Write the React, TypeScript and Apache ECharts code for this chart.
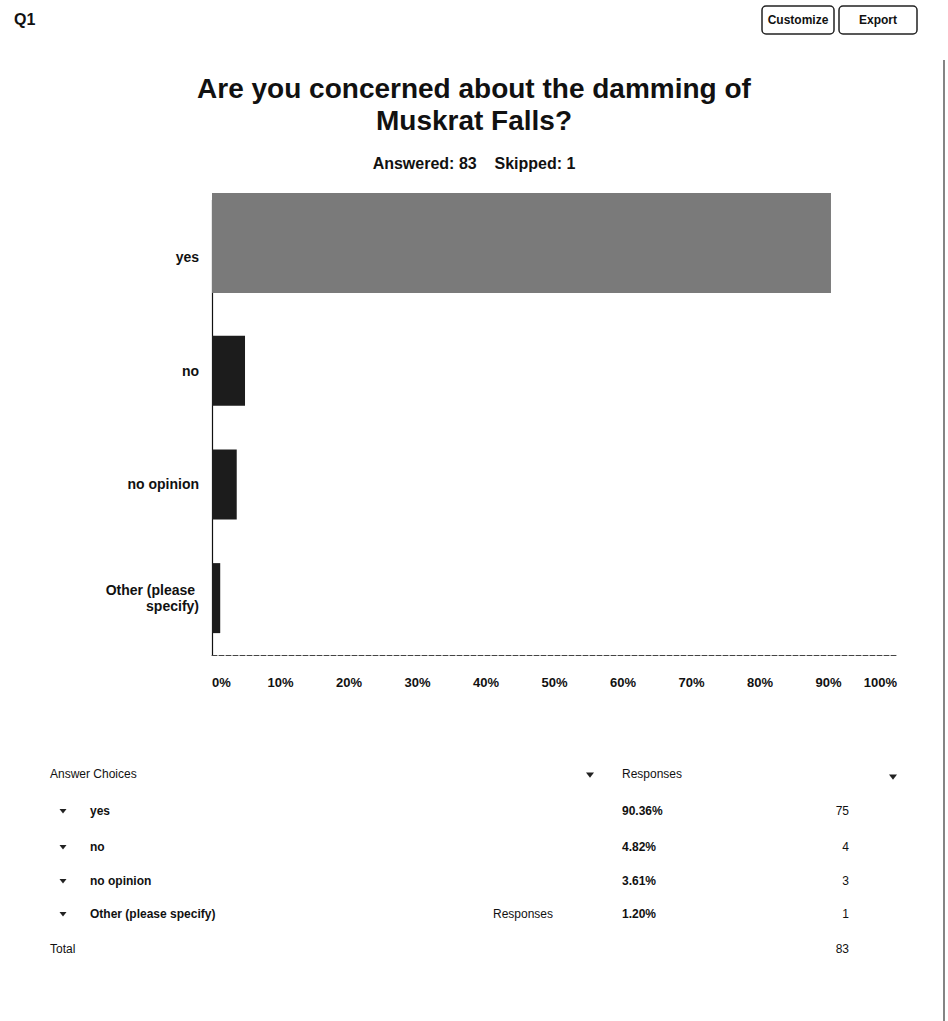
import React, { useEffect, useRef } from "react";
import * as echarts from "echarts";

const categories = ["yes", "no", "no opinion", "Other (please specify)"];
const percents = [90.36, 4.82, 3.61, 1.2];
const counts = [75, 4, 3, 1];
const answered = 83;
const skipped = 1;
const xMin = 0;
const xMax = 100;
const xStep = 10;

const FONT = "'Liberation Sans', Arial, Helvetica, sans-serif";

function tri(cx: number, cy: number, s: number) {
  return {
    type: "polygon",
    shape: { points: [[cx - s, cy - s * 0.6], [cx + s, cy - s * 0.6], [cx, cy + s * 0.7]] },
    style: { fill: "#222" },
  };
}

function txt(x: number, y: number, text: string, size: number, weight: string, align = "left") {
  return {
    type: "text",
    x,
    y,
    style: {
      text,
      fontSize: size,
      fontWeight: weight,
      fontFamily: FONT,
      fill: "#111",
      align,
      verticalAlign: "middle",
      textAlign: align,
      textVerticalAlign: "middle",
    },
  };
}

export default function App() {
  const ref = useRef<HTMLDivElement>(null);

  useEffect(() => {
    if (!ref.current) return;
    const chart = echarts.init(ref.current, undefined, { renderer: "svg" });

    const barData = percents.map((v, i) => [v, i]);

    const rowY = [811, 847, 881, 914];
    const tableEls: any[] = [
      txt(50, 774, "Answer Choices", 12, "normal"),
      tri(590, 775, 4),
      txt(622, 774, "Responses", 12, "normal"),
      tri(893, 777, 4),
    ];
    categories.forEach((c, i) => {
      const y = rowY[i];
      tableEls.push(tri(63, y, 3.5));
      tableEls.push(txt(90, y, c, 12, "bold"));
      if (i === categories.length - 1) tableEls.push(txt(493, y, "Responses", 12, "normal"));
      tableEls.push(txt(622, y, percents[i].toFixed(2) + "%", 12, "bold"));
      tableEls.push(txt(849, y, String(counts[i]), 12, "normal", "right"));
    });
    tableEls.push(txt(50, 949, "Total", 12, "normal"));
    tableEls.push(txt(849, 949, String(answered), 12, "normal", "right"));

    const option: any = {
      animation: false,
      backgroundColor: "#ffffff",
      textStyle: { fontFamily: FONT },
      title: [
        {
          text: "Are you concerned about the damming of\nMuskrat Falls?",
          left: "center",
          top: 72,
          padding: 0,
          textStyle: { fontSize: 28, fontWeight: "bold", color: "#111", lineHeight: 32, fontFamily: FONT },
        },
        {
          text: `Answered: ${answered}    Skipped: ${skipped}`,
          left: "center",
          top: 155,
          padding: 0,
          textStyle: { fontSize: 16, fontWeight: "bold", color: "#111", fontFamily: FONT },
        },
      ],
      grid: { left: 212, right: 51, top: 200, bottom: 366, containLabel: false },
      xAxis: {
        type: "value",
        min: xMin,
        max: xMax,
        interval: xStep,
        axisLine: { show: true, lineStyle: { color: "#444", width: 1, type: [5, 2] } },
        axisTick: { show: false },
        splitLine: { show: false },
        axisLabel: {
          formatter: "{value}%",
          fontSize: 13,
          fontWeight: "bold",
          color: "#111",
          margin: 21,
          alignMinLabel: "left",
          alignMaxLabel: "right",
        },
      },
      yAxis: {
        type: "category",
        data: categories,
        inverse: true,
        axisLine: { show: true, lineStyle: { color: "#111", width: 1.2 } },
        axisTick: { show: false },
        axisLabel: {
          fontSize: 14,
          fontWeight: "bold",
          color: "#111",
          margin: 13,
          width: 105,
          overflow: "break",
          lineHeight: 16,
        },
      },
      series: [
        {
          type: "custom",
          name: "Responses",
          data: barData,
          encode: { x: 0, y: 1 },
          silent: true,
          renderItem: (params: any, api: any) => {
            const idx = params.dataIndex;
            const start = api.coord([0, api.value(1)]);
            const end = api.coord([api.value(0), api.value(1)]);
            const h = idx === 0 ? 100 : 70;
            const dy = idx === 0 ? -14 : 0;
            return {
              type: "rect",
              shape: { x: start[0], y: start[1] - h / 2 + dy, width: end[0] - start[0], height: h },
              style: { fill: idx === 0 ? "#7a7a7a" : "#1c1c1c" },
            };
          },
        },
      ],
      graphic: [
        txt(14, 19, "Q1", 16, "bold"),
        {
          type: "rect",
          shape: { x: 762, y: 6, width: 72, height: 28, r: 4 },
          style: { fill: "#fff", stroke: "#222", lineWidth: 1.5 },
        },
        txt(798, 20, "Customize", 12, "bold", "center"),
        {
          type: "rect",
          shape: { x: 839, y: 6, width: 78, height: 28, r: 4 },
          style: { fill: "#fff", stroke: "#222", lineWidth: 1.5 },
        },
        txt(878, 20, "Export", 12, "bold", "center"),
        {
          type: "line",
          shape: { x1: 944, y1: 60, x2: 944, y2: 1021 },
          style: { stroke: "#333", lineWidth: 1.2 },
        },
        ...tableEls,
      ],
    };

    chart.setOption(option);
    return () => chart.dispose();
  }, []);

  return (
    <div
      ref={ref}
      style={{ position: "absolute", left: 0, top: 0, width: 948, height: 1021, background: "#fff" }}
    />
  );
}
